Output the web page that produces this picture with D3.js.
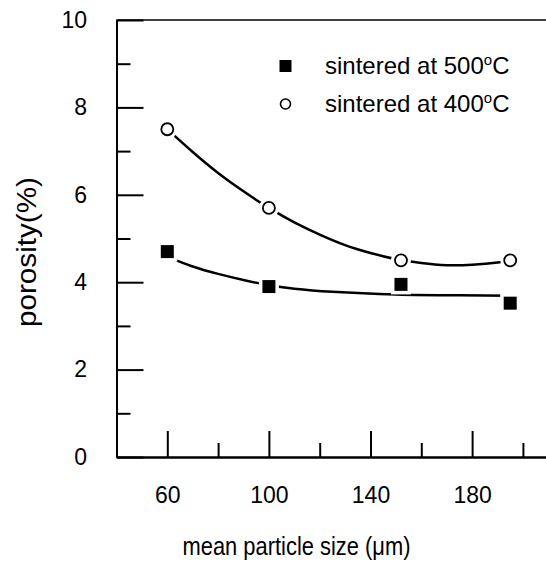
<!DOCTYPE html>
<html>
<head>
<meta charset="utf-8">
<script src="https://cdn.jsdelivr.net/npm/d3@7"></script>
<style>
body{margin:0;background:#fff;}
svg text{font-family:"Liberation Sans",Arial,sans-serif;fill:#000;}
</style>
</head>
<body>
<svg id="chart" width="546" height="563"></svg>
<script>
// measured points
var sizes = [60, 100, 152, 195];
var por500 = [4.7, 3.9, 3.95, 3.52];
var por400 = [7.5, 5.7, 4.5, 4.5];

// fit curves
var fitX500 = [60, 70, 80, 90, 100, 110, 125, 150, 175, 195];
var fitY500 = [4.58, 4.36, 4.19, 4.05, 3.93, 3.85, 3.78, 3.72, 3.70, 3.69];
var fitX400 = [60, 70, 80, 90, 100, 110, 120, 130, 140, 150, 160, 170, 180, 190, 195];
var fitY400 = [7.5, 6.98, 6.5, 6.08, 5.7, 5.37, 5.09, 4.85, 4.67, 4.53, 4.44, 4.39, 4.4, 4.45, 4.5];

var legendNames = ["sintered at 500", "sintered at 400"];
var xMajor = [60, 100, 140, 180];
var xMinor = [80, 120, 160, 200];
var yMajor = [0, 2, 4, 6, 8, 10];
var yMinor = [1, 3, 5, 7, 9];

function pares(xs, ys){
	return xs.map(function(d, i){ return {key: d, value: ys[i]}; });
}

var svg = d3.select("#chart");
var sc_x = d3.scaleLinear().domain([40, 220]).range([116.5, 573.7]);
var sc_y = d3.scaleLinear().domain([0, 10]).range([457, 20]);

function eje(o, escala, vals, size, pad, conTexto){
	var axis = (o == 'b' ? d3.axisBottom(escala) : d3.axisLeft(escala));
	return axis
		.tickValues(vals)
		.tickSize(size)
		.tickSizeOuter(0)
		.tickPadding(pad)
		.tickFormat(conTexto ? d3.format("d") : "");
}

function pintaEje(g){
	g.attr("font-size", 23).attr("font-family", "Liberation Sans, Arial, sans-serif");
	g.select(".domain").attr("stroke", "#000").attr("stroke-width", 2);
	g.selectAll(".tick line").attr("stroke", "#000").attr("stroke-width", 2);
}

// minor ticks first, major ticks + domain over them
svg.append("g").attr("transform", "translate(0," + sc_y(0) + ")")
	.call(eje('b', sc_x, xMinor, -14, 0, false)).call(pintaEje);
svg.append("g").attr("transform", "translate(0," + sc_y(0) + ")")
	.call(eje('b', sc_x, xMajor, -26, 30, true)).call(pintaEje);
svg.append("g").attr("transform", "translate(" + sc_x(40) + ",0)")
	.call(eje('l', sc_y, yMinor, -14, 0, false)).call(pintaEje);
svg.append("g").attr("transform", "translate(" + sc_x(40) + ",0)")
	.call(eje('l', sc_y, yMajor, -27, 29.5, true)).call(pintaEje);

// top frame line
svg.append("line")
	.attr("x1", sc_x(40)).attr("x2", sc_x(220))
	.attr("y1", sc_y(10)).attr("y2", sc_y(10))
	.attr("stroke", "#000").attr("stroke-width", 1.6);

// axis titles
svg.append("text")
	.attr("x", 296.5).attr("y", 555)
	.attr("text-anchor", "middle")
	.attr("font-size", 26)
	.attr("textLength", 228)
	.attr("lengthAdjust", "spacingAndGlyphs")
	.text("mean particle size (\u03bcm)");

svg.append("text")
	.attr("transform", "translate(36,252) rotate(-90)")
	.attr("text-anchor", "middle")
	.attr("font-size", 27)
	.attr("textLength", 150)
	.attr("lengthAdjust", "spacingAndGlyphs")
	.text("porosity(%)");

// fit lines
var linea = d3.line()
	.x(function(d){ return sc_x(d.key); })
	.y(function(d){ return sc_y(d.value); })
	.curve(d3.curveNatural);

[pares(fitX500, fitY500), pares(fitX400, fitY400)].forEach(function(set){
	svg.append("path")
		.datum(set)
		.attr("d", linea)
		.attr("fill", "none")
		.attr("stroke", "#000")
		.attr("stroke-width", 2.5);
});

// markers with white halo so the line stops short of them
var pts500 = pares(sizes, por500);
var pts400 = pares(sizes, por400);

svg.selectAll(".halo-s").data(pts500).enter().append("rect")
	.attr("class", "halo-s")
	.attr("x", function(d){ return sc_x(d.key) - 10; })
	.attr("y", function(d){ return sc_y(d.value) - 10; })
	.attr("width", 20).attr("height", 20)
	.attr("fill", "#fff");
svg.selectAll(".halo-c").data(pts400).enter().append("circle")
	.attr("class", "halo-c")
	.attr("cx", function(d){ return sc_x(d.key); })
	.attr("cy", function(d){ return sc_y(d.value); })
	.attr("r", 10)
	.attr("fill", "#fff");

svg.selectAll(".sq").data(pts500).enter().append("rect")
	.attr("class", "sq")
	.attr("x", function(d){ return sc_x(d.key) - 6.5; })
	.attr("y", function(d){ return sc_y(d.value) - 6.5; })
	.attr("width", 13).attr("height", 13)
	.attr("fill", "#000");
svg.selectAll(".ci").data(pts400).enter().append("circle")
	.attr("class", "ci")
	.attr("cx", function(d){ return sc_x(d.key); })
	.attr("cy", function(d){ return sc_y(d.value); })
	.attr("r", 6)
	.attr("fill", "#fff")
	.attr("stroke", "#000")
	.attr("stroke-width", 1.8);

// legend
var leg = svg.append("g");
leg.append("rect")
	.attr("x", 279.5).attr("y", 60).attr("width", 12).attr("height", 12)
	.attr("fill", "#000");
leg.append("circle")
	.attr("cx", 285.5).attr("cy", 104).attr("r", 5)
	.attr("fill", "#fff").attr("stroke", "#000").attr("stroke-width", 1.6);

legendNames.forEach(function(nm, i){
	var t = leg.append("text")
		.attr("x", 325).attr("y", 74 + i * 38)
		.attr("font-size", 24);
	t.append("tspan").text(nm);
	t.append("tspan").attr("dy", -9).attr("font-size", 15).text("o");
	t.append("tspan").attr("dy", 9).text("C");
});
</script>
</body>
</html>
